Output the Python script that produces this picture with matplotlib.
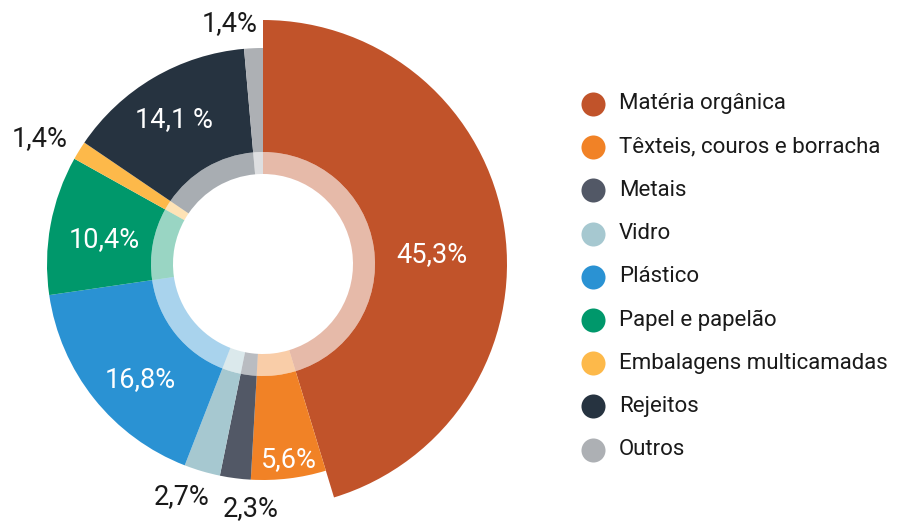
import matplotlib
matplotlib.use("Agg")
import matplotlib.pyplot as plt

categories = ["Matéria orgânica", "Têxteis, couros e borracha", "Metais", "Vidro",
              "Plástico", "Papel e papelão", "Embalagens multicamadas", "Rejeitos", "Outros"]
values = [45.3, 5.6, 2.3, 2.7, 16.8, 10.4, 1.4, 14.1, 1.4]
value_labels = ["45,3%", "5,6%", "2,3%", "2,7%", "16,8%", "10,4%", "1,4%", "14,1 %", "1,4%"]
colors = ["#C1532A", "#F18226", "#525866", "#A6C8D0", "#2A92D3",
          "#00986B", "#FDB94A", "#263340", "#ADB0B4"]

W, H = 899, 529
fig = plt.figure(figsize=(W / 100, H / 100), dpi=100)
ax = fig.add_axes([0, 0, 1, 1])

def py(y):
    return H - y

cx, cy = 263, py(264)
r_hole, r_inner, r_outer, r_big = 90, 112, 216, 244

# outer ring
wedges, _ = ax.pie(values, colors=colors, startangle=90, counterclock=False,
                   radius=r_outer, center=(cx, cy), normalize=True,
                   wedgeprops=dict(width=r_outer - r_inner, linewidth=0))
# the first slice sticks out
wedges[0].set_radius(r_big)
wedges[0].set_width(r_big - r_inner)

# inner lighter ring
ax.pie(values, colors=colors, startangle=90, counterclock=False,
       radius=r_inner, center=(cx, cy), normalize=True,
       wedgeprops=dict(width=r_inner - r_hole, linewidth=0, alpha=0.4))

# value labels
label_pos = [(432, 255), (289, 460), (251, 509), (182, 497), (140, 380),
             (104, 240), (40, 139), (174, 120), (230, 24)]
label_colors = ["white", "white", "#1a1a1a", "#1a1a1a", "white",
                "white", "#1a1a1a", "white", "#1a1a1a"]
for txt, (x, y), c in zip(value_labels, label_pos, label_colors):
    ax.text(x, py(y), txt, ha="center", va="center", color=c,
            fontsize=19.5, family=["Roboto", "DejaVu Sans"])

# legend
leg_y0, leg_dy = 104, 43.2
for i, (cat, col) in enumerate(zip(categories, colors)):
    y = py(leg_y0 + i * leg_dy)
    ax.scatter([593], [y], s=24 ** 2 * 0.52, color=col, linewidths=0)
    ax.text(619, y, cat, ha="left", va="center", color="#1a1a1a",
            fontsize=16, family=["Roboto", "DejaVu Sans"])

ax.set_xlim(0, W)
ax.set_ylim(0, H)
ax.set_aspect("equal")
ax.axis("off")
fig.savefig("out.png", dpi=100)
